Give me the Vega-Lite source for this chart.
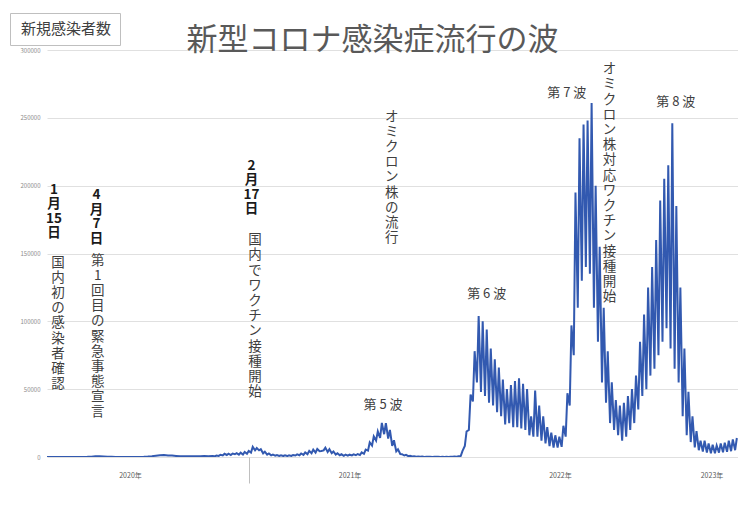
{
  "$schema": "https://vega.github.io/schema/vega-lite/v6.json",
  "width": 691,
  "height": 407,
  "autosize": "none",
  "padding": {"left": 47, "top": 50, "right": 0, "bottom": 49},
  "background": "white",
  "config": {"font": "Noto Sans CJK JP", "view": {"stroke": null}},
  "title": {"text": "新型コロナ感染症流行の波", "fontSize": 31, "fontWeight": "normal", "color": "#595959", "font": "Noto Sans CJK JP", "anchor": "middle", "dx": -20, "dy": 46, "offset": 2},
  "datasets": {
    "cases": [
      {"date": "2020-01-16", "cases": 1}, {"date": "2020-01-23", "cases": 1}, {"date": "2020-01-30", "cases": 3},
      {"date": "2020-02-06", "cases": 5}, {"date": "2020-02-13", "cases": 10}, {"date": "2020-02-20", "cases": 15}, {"date": "2020-02-27", "cases": 20},
      {"date": "2020-03-05", "cases": 35}, {"date": "2020-03-12", "cases": 55}, {"date": "2020-03-19", "cases": 40}, {"date": "2020-03-26", "cases": 95},
      {"date": "2020-04-02", "cases": 230}, {"date": "2020-04-09", "cases": 550}, {"date": "2020-04-16", "cases": 580}, {"date": "2020-04-23", "cases": 440}, {"date": "2020-04-30", "cases": 160},
      {"date": "2020-05-07", "cases": 100}, {"date": "2020-05-14", "cases": 55}, {"date": "2020-05-21", "cases": 30}, {"date": "2020-05-28", "cases": 40},
      {"date": "2020-06-04", "cases": 40}, {"date": "2020-06-11", "cases": 40}, {"date": "2020-06-18", "cases": 40}, {"date": "2020-06-25", "cases": 70},
      {"date": "2020-07-02", "cases": 160}, {"date": "2020-07-09", "cases": 350}, {"date": "2020-07-16", "cases": 620}, {"date": "2020-07-23", "cases": 980}, {"date": "2020-07-30", "cases": 1260},
      {"date": "2020-08-06", "cases": 1480}, {"date": "2020-08-13", "cases": 1180}, {"date": "2020-08-20", "cases": 1040}, {"date": "2020-08-27", "cases": 820},
      {"date": "2020-09-03", "cases": 580}, {"date": "2020-09-10", "cases": 630}, {"date": "2020-09-17", "cases": 570}, {"date": "2020-09-24", "cases": 500},
      {"date": "2020-10-01", "cases": 620}, {"date": "2020-10-08", "cases": 590}, {"date": "2020-10-15", "cases": 700}, {"date": "2020-10-22", "cases": 620}, {"date": "2020-10-29", "cases": 750},
      {"date": "2020-11-02", "cases": 490}, {"date": "2020-11-05", "cases": 1050}, {"date": "2020-11-09", "cases": 800}, {"date": "2020-11-12", "cases": 1650},
      {"date": "2020-11-16", "cases": 1120}, {"date": "2020-11-19", "cases": 2380}, {"date": "2020-11-23", "cases": 1500}, {"date": "2020-11-26", "cases": 2500},
      {"date": "2020-11-30", "cases": 1430}, {"date": "2020-12-03", "cases": 2500}, {"date": "2020-12-07", "cases": 2000}, {"date": "2020-12-10", "cases": 2800},
      {"date": "2020-12-14", "cases": 1700}, {"date": "2020-12-17", "cases": 3200}, {"date": "2020-12-21", "cases": 1800}, {"date": "2020-12-24", "cases": 3700},
      {"date": "2020-12-28", "cases": 2400}, {"date": "2020-12-31", "cases": 4500},
      {"date": "2021-01-04", "cases": 3300}, {"date": "2021-01-07", "cases": 7500}, {"date": "2021-01-11", "cases": 4900}, {"date": "2021-01-14", "cases": 6600},
      {"date": "2021-01-18", "cases": 4900}, {"date": "2021-01-21", "cases": 5700}, {"date": "2021-01-25", "cases": 2700}, {"date": "2021-01-28", "cases": 3900},
      {"date": "2021-02-01", "cases": 1800}, {"date": "2021-02-04", "cases": 2600}, {"date": "2021-02-08", "cases": 1200}, {"date": "2021-02-11", "cases": 1700},
      {"date": "2021-02-15", "cases": 1000}, {"date": "2021-02-18", "cases": 1500}, {"date": "2021-02-22", "cases": 750}, {"date": "2021-02-25", "cases": 1200},
      {"date": "2021-03-01", "cases": 700}, {"date": "2021-03-04", "cases": 1200}, {"date": "2021-03-08", "cases": 700}, {"date": "2021-03-11", "cases": 1300},
      {"date": "2021-03-15", "cases": 750}, {"date": "2021-03-18", "cases": 1500}, {"date": "2021-03-22", "cases": 1100}, {"date": "2021-03-25", "cases": 1900},
      {"date": "2021-03-29", "cases": 1300}, {"date": "2021-04-01", "cases": 2600}, {"date": "2021-04-05", "cases": 1600}, {"date": "2021-04-08", "cases": 3400},
      {"date": "2021-04-12", "cases": 2100}, {"date": "2021-04-15", "cases": 4500}, {"date": "2021-04-19", "cases": 2800}, {"date": "2021-04-22", "cases": 5500},
      {"date": "2021-04-26", "cases": 3300}, {"date": "2021-04-29", "cases": 5900}, {"date": "2021-05-03", "cases": 4300}, {"date": "2021-05-06", "cases": 4400},
      {"date": "2021-05-10", "cases": 4900}, {"date": "2021-05-13", "cases": 6900}, {"date": "2021-05-17", "cases": 3700}, {"date": "2021-05-20", "cases": 5700},
      {"date": "2021-05-24", "cases": 2800}, {"date": "2021-05-27", "cases": 4100}, {"date": "2021-05-31", "cases": 1800}, {"date": "2021-06-03", "cases": 2800},
      {"date": "2021-06-07", "cases": 1300}, {"date": "2021-06-10", "cases": 2000}, {"date": "2021-06-14", "cases": 900}, {"date": "2021-06-17", "cases": 1700},
      {"date": "2021-06-21", "cases": 1000}, {"date": "2021-06-24", "cases": 1700}, {"date": "2021-06-28", "cases": 1200}, {"date": "2021-07-01", "cases": 2000},
      {"date": "2021-07-05", "cases": 1300}, {"date": "2021-07-08", "cases": 2200}, {"date": "2021-07-12", "cases": 1500}, {"date": "2021-07-15", "cases": 3400},
      {"date": "2021-07-19", "cases": 2300}, {"date": "2021-07-22", "cases": 5400}, {"date": "2021-07-26", "cases": 4700}, {"date": "2021-07-29", "cases": 10700},
      {"date": "2021-08-02", "cases": 8400}, {"date": "2021-08-05", "cases": 15200}, {"date": "2021-08-09", "cases": 12100}, {"date": "2021-08-12", "cases": 18900},
      {"date": "2021-08-16", "cases": 14000}, {"date": "2021-08-19", "cases": 25100}, {"date": "2021-08-23", "cases": 16800}, {"date": "2021-08-26", "cases": 24900},
      {"date": "2021-08-30", "cases": 13600}, {"date": "2021-09-02", "cases": 20000}, {"date": "2021-09-06", "cases": 8200}, {"date": "2021-09-09", "cases": 12400},
      {"date": "2021-09-13", "cases": 4200}, {"date": "2021-09-16", "cases": 5700}, {"date": "2021-09-20", "cases": 2200}, {"date": "2021-09-23", "cases": 2100},
      {"date": "2021-09-27", "cases": 1100}, {"date": "2021-09-30", "cases": 1600}, {"date": "2021-10-04", "cases": 600}, {"date": "2021-10-07", "cases": 900},
      {"date": "2021-10-11", "cases": 370}, {"date": "2021-10-14", "cases": 620}, {"date": "2021-10-18", "cases": 230}, {"date": "2021-10-21", "cases": 420},
      {"date": "2021-10-25", "cases": 150}, {"date": "2021-10-28", "cases": 280}, {"date": "2021-11-01", "cases": 90}, {"date": "2021-11-04", "cases": 190},
      {"date": "2021-11-08", "cases": 100}, {"date": "2021-11-11", "cases": 200}, {"date": "2021-11-15", "cases": 80}, {"date": "2021-11-18", "cases": 170},
      {"date": "2021-11-22", "cases": 110}, {"date": "2021-11-25", "cases": 130}, {"date": "2021-11-29", "cases": 80}, {"date": "2021-12-02", "cases": 130},
      {"date": "2021-12-06", "cases": 80}, {"date": "2021-12-09", "cases": 170}, {"date": "2021-12-13", "cases": 90}, {"date": "2021-12-16", "cases": 170},
      {"date": "2021-12-20", "cases": 120}, {"date": "2021-12-23", "cases": 280}, {"date": "2021-12-27", "cases": 210}, {"date": "2021-12-30", "cases": 500},
      {"date": "2022-01-03", "cases": 780}, {"date": "2022-01-06", "cases": 4500}, {"date": "2022-01-10", "cases": 8200}, {"date": "2022-01-13", "cases": 18800},
      {"date": "2022-01-17", "cases": 20000}, {"date": "2022-01-20", "cases": 46000}, {"date": "2022-01-24", "cases": 41000}, {"date": "2022-01-27", "cases": 78000},
      {"date": "2022-01-31", "cases": 55000}, {"date": "2022-02-03", "cases": 104000}, {"date": "2022-02-07", "cases": 48000}, {"date": "2022-02-10", "cases": 100000},
      {"date": "2022-02-14", "cases": 45000}, {"date": "2022-02-17", "cases": 94000}, {"date": "2022-02-21", "cases": 40000}, {"date": "2022-02-24", "cases": 80000},
      {"date": "2022-02-28", "cases": 38000}, {"date": "2022-03-03", "cases": 72000}, {"date": "2022-03-07", "cases": 33000}, {"date": "2022-03-10", "cases": 66000},
      {"date": "2022-03-14", "cases": 30000}, {"date": "2022-03-17", "cases": 57000}, {"date": "2022-03-21", "cases": 24000}, {"date": "2022-03-24", "cases": 50000},
      {"date": "2022-03-28", "cases": 25000}, {"date": "2022-03-31", "cases": 53000}, {"date": "2022-04-04", "cases": 22000}, {"date": "2022-04-07", "cases": 56000},
      {"date": "2022-04-11", "cases": 22000}, {"date": "2022-04-14", "cases": 58000}, {"date": "2022-04-18", "cases": 21000}, {"date": "2022-04-21", "cases": 54000},
      {"date": "2022-04-25", "cases": 20000}, {"date": "2022-04-28", "cases": 50000}, {"date": "2022-05-02", "cases": 16000}, {"date": "2022-05-05", "cases": 30000},
      {"date": "2022-05-09", "cases": 15000}, {"date": "2022-05-12", "cases": 49000}, {"date": "2022-05-16", "cases": 15000}, {"date": "2022-05-19", "cases": 38000},
      {"date": "2022-05-23", "cases": 12000}, {"date": "2022-05-26", "cases": 30000}, {"date": "2022-05-30", "cases": 10000}, {"date": "2022-06-02", "cases": 22000},
      {"date": "2022-06-06", "cases": 8000}, {"date": "2022-06-09", "cases": 18000}, {"date": "2022-06-13", "cases": 7000}, {"date": "2022-06-16", "cases": 16000},
      {"date": "2022-06-20", "cases": 7000}, {"date": "2022-06-23", "cases": 15000}, {"date": "2022-06-27", "cases": 7500}, {"date": "2022-06-30", "cases": 23000},
      {"date": "2022-07-04", "cases": 15000}, {"date": "2022-07-07", "cases": 47000}, {"date": "2022-07-11", "cases": 38000}, {"date": "2022-07-14", "cases": 97000},
      {"date": "2022-07-18", "cases": 75000}, {"date": "2022-07-21", "cases": 195000}, {"date": "2022-07-25", "cases": 110000}, {"date": "2022-07-28", "cases": 235000},
      {"date": "2022-08-01", "cases": 130000}, {"date": "2022-08-04", "cases": 245000}, {"date": "2022-08-08", "cases": 140000}, {"date": "2022-08-11", "cases": 248000},
      {"date": "2022-08-15", "cases": 135000}, {"date": "2022-08-18", "cases": 261000}, {"date": "2022-08-22", "cases": 110000}, {"date": "2022-08-25", "cases": 200000},
      {"date": "2022-08-29", "cases": 85000}, {"date": "2022-09-01", "cases": 155000}, {"date": "2022-09-05", "cases": 55000}, {"date": "2022-09-08", "cases": 110000},
      {"date": "2022-09-12", "cases": 40000}, {"date": "2022-09-15", "cases": 78000}, {"date": "2022-09-19", "cases": 25000}, {"date": "2022-09-22", "cases": 55000},
      {"date": "2022-09-26", "cases": 20000}, {"date": "2022-09-29", "cases": 42000}, {"date": "2022-10-03", "cases": 16000}, {"date": "2022-10-06", "cases": 38000},
      {"date": "2022-10-10", "cases": 12000}, {"date": "2022-10-13", "cases": 40000}, {"date": "2022-10-17", "cases": 15000}, {"date": "2022-10-20", "cases": 45000},
      {"date": "2022-10-24", "cases": 20000}, {"date": "2022-10-27", "cases": 50000}, {"date": "2022-10-31", "cases": 25000}, {"date": "2022-11-03", "cases": 60000},
      {"date": "2022-11-07", "cases": 35000}, {"date": "2022-11-10", "cases": 85000}, {"date": "2022-11-14", "cases": 45000}, {"date": "2022-11-17", "cases": 105000},
      {"date": "2022-11-21", "cases": 50000}, {"date": "2022-11-24", "cases": 125000}, {"date": "2022-11-28", "cases": 60000}, {"date": "2022-12-01", "cases": 140000},
      {"date": "2022-12-05", "cases": 65000}, {"date": "2022-12-08", "cases": 160000}, {"date": "2022-12-12", "cases": 75000}, {"date": "2022-12-15", "cases": 189000},
      {"date": "2022-12-19", "cases": 85000}, {"date": "2022-12-22", "cases": 205000}, {"date": "2022-12-26", "cases": 95000}, {"date": "2022-12-29", "cases": 215000},
      {"date": "2023-01-02", "cases": 80000}, {"date": "2023-01-05", "cases": 246000}, {"date": "2023-01-09", "cases": 65000}, {"date": "2023-01-12", "cases": 185000},
      {"date": "2023-01-16", "cases": 55000}, {"date": "2023-01-19", "cases": 125000}, {"date": "2023-01-23", "cases": 30000}, {"date": "2023-01-26", "cases": 80000},
      {"date": "2023-01-30", "cases": 16000}, {"date": "2023-02-02", "cases": 48000}, {"date": "2023-02-06", "cases": 11000}, {"date": "2023-02-09", "cases": 30000},
      {"date": "2023-02-13", "cases": 7000}, {"date": "2023-02-16", "cases": 19000}, {"date": "2023-02-20", "cases": 5000}, {"date": "2023-02-23", "cases": 12000},
      {"date": "2023-02-27", "cases": 4000}, {"date": "2023-03-02", "cases": 12000}, {"date": "2023-03-06", "cases": 3300}, {"date": "2023-03-09", "cases": 10000},
      {"date": "2023-03-13", "cases": 2700}, {"date": "2023-03-16", "cases": 9000}, {"date": "2023-03-20", "cases": 2700}, {"date": "2023-03-23", "cases": 8500},
      {"date": "2023-03-27", "cases": 3200}, {"date": "2023-03-30", "cases": 10000}, {"date": "2023-04-03", "cases": 3500}, {"date": "2023-04-06", "cases": 10500},
      {"date": "2023-04-10", "cases": 3800}, {"date": "2023-04-13", "cases": 12000}, {"date": "2023-04-17", "cases": 4300}, {"date": "2023-04-20", "cases": 13000},
      {"date": "2023-04-24", "cases": 5000}, {"date": "2023-04-27", "cases": 14000}
    ],
    "waves": [
      {"date": "2021-08-21", "cases": 38300, "label": "第 5 波"},
      {"date": "2022-02-17", "cases": 120000, "label": "第 6 波"},
      {"date": "2022-07-06", "cases": 268000, "label": "第 7 波"},
      {"date": "2023-01-11", "cases": 262000, "label": "第 8 波"}
    ],
    "notes": [
      {"date": "2020-01-28", "cases": 202000, "kind": "date", "lines": ["1", "月", "15", "日"]},
      {"date": "2020-02-04", "cases": 148500, "kind": "desc", "lines": ["国", "内", "初", "の", "感", "染", "者", "確", "認"]},
      {"date": "2020-04-11", "cases": 198000, "kind": "date", "lines": ["4", "月", "7", "日"]},
      {"date": "2020-04-13", "cases": 150000, "kind": "desc", "lines": ["第", "1", "回", "目", "の", "緊", "急", "事", "態", "宣", "言"]},
      {"date": "2021-01-05", "cases": 220000, "kind": "date", "lines": ["2", "月", "17", "日"]},
      {"date": "2021-01-11", "cases": 165000, "kind": "desc", "lines": ["国", "内", "で", "ワ", "ク", "チ", "ン", "接", "種", "開", "始"]},
      {"date": "2021-09-05", "cases": 256000, "kind": "desc", "lines": ["オ", "ミ", "ク", "ロ", "ン", "株", "の", "流", "行"]},
      {"date": "2022-09-18", "cases": 291000, "kind": "desc", "lines": ["オ", "ミ", "ク", "ロ", "ン", "株", "対", "応", "ワ", "ク", "チ", "ン", "接", "種", "開", "始"]}
    ]
  },
  "encoding": {
    "x": {
      "field": "date", "type": "temporal",
      "scale": {"domain": [{"year": 2020, "month": 1, "date": 16}, {"year": 2023, "month": 4, "date": 29}], "nice": false},
      "axis": {
        "title": null,
        "values": [{"year": 2020, "month": 6, "date": 8}, {"year": 2021, "month": 1, "date": 1}, {"year": 2021, "month": 6, "date": 24}, {"year": 2022, "month": 6, "date": 24}, {"year": 2023, "month": 3, "date": 14}],
        "labelExpr": "month(datum.value) == 0 ? '' : timeFormat(datum.value, '%Y') + '年'",
        "tickColor": {"condition": {"test": "month(datum.value) == 0", "value": "#bfbfbf"}, "value": "rgba(0,0,0,0)"},
        "tickSize": 26,
        "labelPadding": -12,
        "domain": false,
        "grid": false,
        "labelFontSize": 7,
        "labelColor": "#595959",
        "labelOverlap": false
      }
    },
    "y": {
      "field": "cases", "type": "quantitative",
      "scale": {"domain": [0, 300000], "nice": false},
      "axis": {
        "title": null,
        "values": [0, 50000, 100000, 150000, 200000, 250000, 300000],
        "format": "d",
        "domain": false,
        "ticks": false,
        "grid": true,
        "gridColor": "#e0e0e0",
        "labelFontSize": 6,
        "labelColor": "#8c8c8c",
        "labelPadding": 7
      }
    }
  },
  "layer": [
    {
      "data": {"name": "cases"},
      "mark": {"type": "line", "strokeWidth": 2, "clip": true},
      "encoding": {
        "color": {
          "datum": "新規感染者数", "type": "nominal",
          "scale": {"range": ["#3259b0"]},
          "legend": {"title": null, "orient": "none", "legendX": -37, "legendY": -37, "strokeColor": "#bfbfbf", "fillColor": "white", "padding": 8, "symbolSize": 0, "symbolOpacity": 0, "symbolStrokeWidth": 0, "labelOffset": -12, "labelFontSize": 15, "labelColor": "#404040", "labelFont": "Noto Sans CJK JP"}
        }
      }
    },
    {
      "data": {"name": "waves"},
      "mark": {"type": "text", "fontSize": 13, "color": "#404040", "align": "center", "baseline": "middle"},
      "encoding": {"text": {"field": "label", "type": "nominal"}}
    },
    {
      "data": {"name": "notes"},
      "transform": [{"filter": "datum.kind == 'date'"}],
      "mark": {"type": "text", "fontSize": 13.5, "fontWeight": "bold", "color": "#1a1a1a", "align": "center", "baseline": "top", "lineHeight": 14.5, "lineBreak": "\n"},
      "encoding": {"text": {"field": "lines", "type": "nominal"}}
    },
    {
      "data": {"name": "notes"},
      "transform": [{"filter": "datum.kind == 'desc'"}],
      "mark": {"type": "text", "fontSize": 13.5, "color": "#404040", "align": "center", "baseline": "top", "lineHeight": 15.2, "lineBreak": "\n"},
      "encoding": {"text": {"field": "lines", "type": "nominal"}}
    }
  ]
}
